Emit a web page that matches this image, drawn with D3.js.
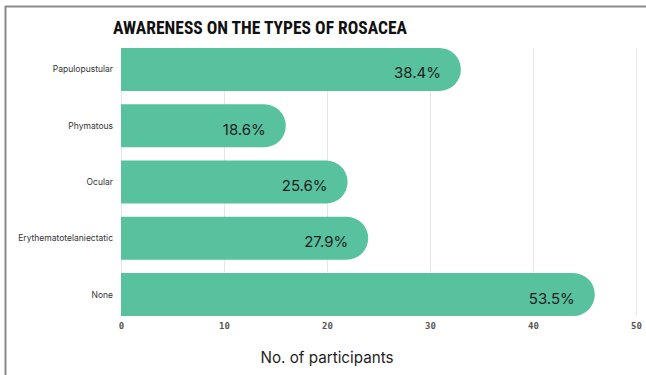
<!DOCTYPE html>
<html><head><meta charset="utf-8">
<script src="https://cdn.jsdelivr.net/npm/d3@7"></script>
<style>html,body{margin:0;padding:0;background:#fff;}svg{display:block;}</style>
</head><body>
<svg id="c" width="646" height="375"></svg>
<script>
const categories = ["Papulopustular","Phymatous","Ocular","Erythematotelaniectatic","None"];
const counts = [33, 16, 22, 24, 46];
const percentLabels = ["38.4%","18.6%","25.6%","27.9%","53.5%"];
const xTicks = [0,10,20,30,40,50];
const title = "AWARENESS ON THE TYPES OF ROSACEA";
const xTitle = "No. of participants";

const svg = d3.select("#c");
// frame
svg.append("line").attr("x1",5.5).attr("x2",5.5).attr("y1",6).attr("y2",375).attr("stroke","#8a8a8a").attr("stroke-width",2);
svg.append("line").attr("x1",5).attr("x2",646).attr("y1",6.5).attr("y2",6.5).attr("stroke","#8a8a8a").attr("stroke-width",2);

const x = d3.scaleLinear().domain([0,50]).range([121,636]);
const y = d3.scaleBand().domain(categories).range([34.7,329.3]).padding(0.236);
const gridTop = y(categories[0]), gridBot = y(categories[categories.length-1]) + y.bandwidth();

svg.append("g").selectAll("line").data(xTicks).join("line")
  .attr("x1",d=>x(d)+0.5).attr("x2",d=>x(d)+0.5).attr("y1",gridTop).attr("y2",gridBot)
  .attr("stroke","#e6e6ea").attr("stroke-width",1);

const bh = y.bandwidth(), r = bh/2;
svg.append("g").selectAll("path").data(categories).join("path")
  .attr("fill","#58c19e")
  .attr("d",(c,i)=>{
    const x0 = x(0), x1 = x(counts[i]), y0 = y(c);
    return `M${x0},${y0}H${x1-r}A${r},${r} 0 0 1 ${x1},${y0+r}A${r},${r} 0 0 1 ${x1-r},${y0+bh}H${x0}Z`;
  });

svg.append("g").selectAll("text").data(categories).join("text")
  .attr("x",d=>x(counts[categories.indexOf(d)])-20)
  .attr("y",d=>y(d)+bh/2+9)
  .attr("text-anchor","end")
  .attr("font-family","Inter, 'Open Sans', sans-serif")
  .attr("font-size",15).attr("fill","#1e1e1e")
  .text((d,i)=>percentLabels[i]);

svg.append("g").selectAll("text").data(categories).join("text")
  .attr("x",113).attr("y",d=>y(d)+bh/2+3)
  .attr("text-anchor","end")
  .attr("font-family","Inter, 'Open Sans', sans-serif")
  .attr("font-size",8.5).attr("fill","#333")
  .text(d=>d);

const xAxis = d3.axisBottom(x).tickValues(xTicks).tickSize(0).tickPadding(0);
const gx = svg.append("g").attr("transform",`translate(0,${gridBot})`).call(xAxis);
gx.select(".domain").remove();
gx.selectAll("text").attr("dy",null).attr("y",13)
  .attr("font-family","'DejaVu Sans Mono', monospace").attr("font-size",9)
  .attr("font-weight","bold").attr("fill","#555");

svg.append("text").attr("x",260).attr("y",33.5)
  .attr("font-family","'Liberation Sans Narrow', 'Roboto Condensed', Roboto, sans-serif")
  .attr("font-weight","bold").attr("font-size",18.5).attr("fill","#111")
  .attr("text-anchor","middle")
  .attr("textLength",294).attr("lengthAdjust","spacingAndGlyphs")
  .text(title);

svg.append("text").attr("x",327).attr("y",363)
  .attr("font-family","Inter, 'Open Sans', sans-serif")
  .attr("font-size",16).attr("fill","#1e1e1e")
  .attr("text-anchor","middle")
  .attr("textLength",133).attr("lengthAdjust","spacingAndGlyphs")
  .text(xTitle);
</script>
</body></html>
